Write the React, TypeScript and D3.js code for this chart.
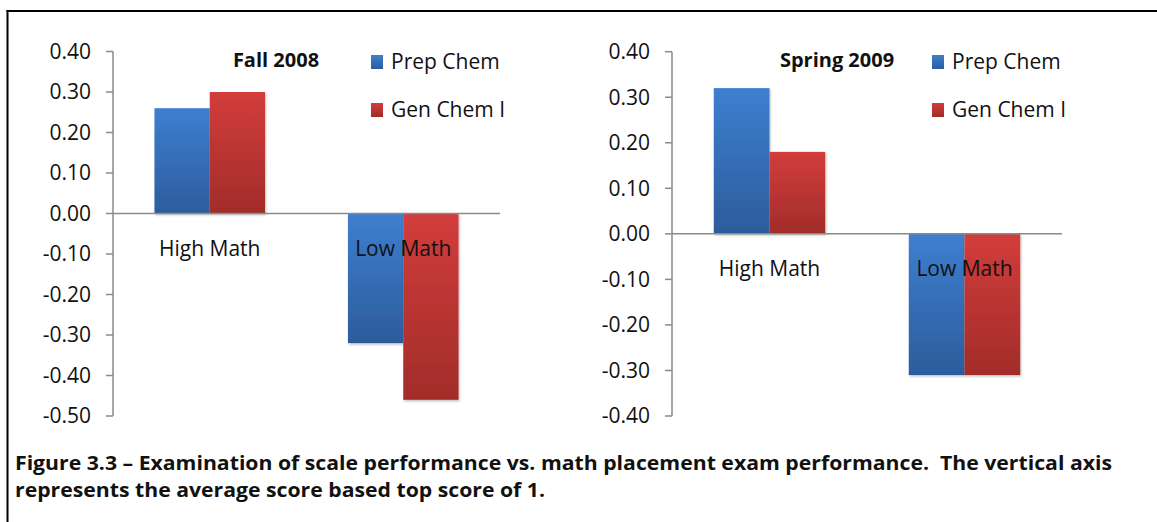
import React from "react";
import * as d3 from "d3";

const categories = ["High Math", "Low Math"];
const seriesNames = ["Prep Chem", "Gen Chem I"];
const fallPrep = [0.26, -0.32];
const fallGen = [0.3, -0.46];
const springPrep = [0.32, -0.31];
const springGen = [0.18, -0.31];
const fallTicks = [0.4, 0.3, 0.2, 0.1, 0, -0.1, -0.2, -0.3, -0.4, -0.5];
const springTicks = [0.4, 0.3, 0.2, 0.1, 0, -0.1, -0.2, -0.3, -0.4];
const captionLines = [
  "Figure 3.3 \u2013 Examination of scale performance vs. math placement exam performance.  The vertical axis",
  "represents the average score based top score of 1.",
];

const FONT = "'Open Sans', 'Liberation Sans', sans-serif";
const AXIS = "#8a8a8a";

type PanelProps = {
  title: string;
  prep: number[];
  gen: number[];
  ticks: number[];
  x0: number;
  x1: number;
  yTop: number;
  yBot: number;
  titleX: number;
  legendX: number;
};

function Panel({ title, prep, gen, ticks, x0, x1, yTop, yBot, titleX, legendX }: PanelProps) {
  const y = d3
    .scaleLinear()
    .domain([d3.min(ticks) as number, d3.max(ticks) as number])
    .range([yBot, yTop]);
  const xb = d3.scaleBand<string>().domain(categories).range([x0, x1]).padding(0);
  const xs = d3
    .scaleBand<string>()
    .domain(seriesNames)
    .range([0, xb.bandwidth()])
    .paddingInner(0)
    .paddingOuter(0.75);
  const values = [prep, gen];
  const fills = ["url(#gBlue)", "url(#gRed)"];
  const y0 = y(0);
  return (
    <g>
      {seriesNames.map((s, si) =>
        categories.map((c, ci) => {
          const v = values[si][ci];
          const top = Math.min(y(v), y0);
          const h = Math.abs(y(v) - y0);
          return (
            <rect
              key={s + c}
              x={(xb(c) as number) + (xs(s) as number)}
              y={top}
              width={xs.bandwidth()}
              height={h}
              fill={fills[si]}
              filter="url(#shadow)"
            />
          );
        })
      )}
      <line x1={x0} x2={x0} y1={y(ticks[0])} y2={y(ticks[ticks.length - 1])} stroke={AXIS} strokeWidth={1.5} />
      {ticks.map((t) => (
        <g key={t}>
          <line x1={x0 - 7} x2={x0} y1={y(t)} y2={y(t)} stroke={AXIS} strokeWidth={1.5} />
          <text
            x={x0 - 22}
            y={y(t)}
            dy="0.35em"
            textAnchor="end"
            fontFamily={FONT}
            fontSize={21}
            fill="#111"
          >
            {t.toFixed(2)}
          </text>
        </g>
      ))}
      <line x1={x0} x2={x1} y1={y0} y2={y0} stroke={AXIS} strokeWidth={1.5} />
      {categories.map((c) => (
        <text
          key={c}
          x={(xb(c) as number) + xb.bandwidth() / 2}
          y={y0 + 35}
          dy="0.35em"
          textAnchor="middle"
          fontFamily={FONT}
          fontSize={21}
          fill="#111"
        >
          {c}
        </text>
      ))}
      <text x={titleX} y={y(0.4) + 8} dy="0.35em" textAnchor="middle" fontFamily={FONT} fontWeight="bold" fontSize={20} fill="#111">
        {title}
      </text>
      {seriesNames.map((s, i) => (
        <g key={s}>
          <rect x={legendX} y={55 + i * 48} width={12} height={14} fill={fills[i]} />
          <text x={legendX + 20} y={62 + i * 48} dy="0.35em" fontFamily={FONT} fontSize={21} fill="#111">
            {s}
          </text>
        </g>
      ))}
    </g>
  );
}

export default function App() {
  return (
    <svg
      width={1157}
      height={522}
      style={{ position: "absolute", left: 0, top: 0, background: "#fff" }}
    >
      <defs>
        <linearGradient id="gBlue" x1="0" y1="0" x2="0" y2="1">
          <stop offset="0" stopColor="#3d7fd0" />
          <stop offset="1" stopColor="#2c5c9c" />
        </linearGradient>
        <linearGradient id="gRed" x1="0" y1="0" x2="0" y2="1">
          <stop offset="0" stopColor="#d23d3b" />
          <stop offset="1" stopColor="#a22c2a" />
        </linearGradient>
        <filter id="shadow" x="-10%" y="-10%" width="130%" height="130%">
          <feDropShadow dx="1" dy="1.5" stdDeviation="1.2" floodColor="#000" floodOpacity="0.25" />
        </filter>
      </defs>
      <rect x={0} y={0} width={1157} height={522} fill="#fff" />
      <line x1={7.5} x2={7.5} y1={10} y2={522} stroke="#000" strokeWidth={2} />
      <line x1={6.5} x2={1157} y1={11} y2={11} stroke="#000" strokeWidth={2} />
      <Panel
        title="Fall 2008"
        prep={fallPrep}
        gen={fallGen}
        ticks={fallTicks}
        x0={113}
        x1={500}
        yTop={51.5}
        yBot={416}
        titleX={276}
        legendX={371}
      />
      <Panel
        title="Spring 2009"
        prep={springPrep}
        gen={springGen}
        ticks={springTicks}
        x0={672}
        x1={1062}
        yTop={51.7}
        yBot={416}
        titleX={837}
        legendX={932}
      />
      {captionLines.map((l, i) => (
        <text
          key={i}
          x={15}
          y={463 + i * 27}
          dy="0.35em"
          fontFamily={FONT}
          fontWeight="bold"
          fontSize={19}
          fill="#111"
          textLength={i === 0 ? 1097 : 530}
          lengthAdjust="spacingAndGlyphs"
          style={{ whiteSpace: "pre" }}
        >
          {l}
        </text>
      ))}
    </svg>
  );
}
